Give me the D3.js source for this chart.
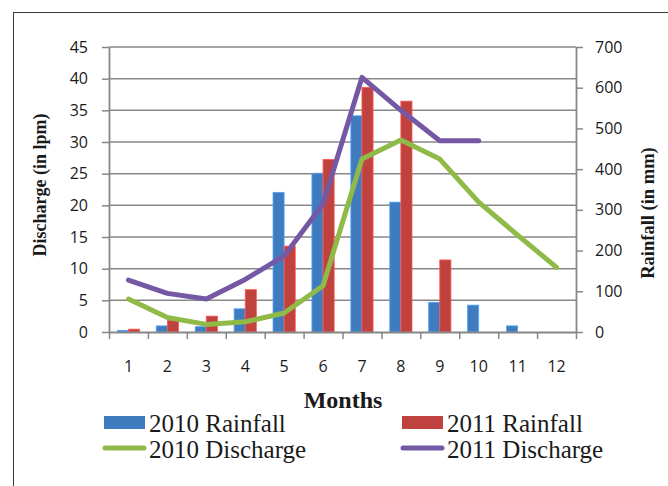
<!DOCTYPE html>
<html>
<head>
<meta charset="utf-8">
<script src="https://cdn.jsdelivr.net/npm/d3@7"></script>
<style>
  html, body { margin: 0; padding: 0; background: #ffffff; }
  svg { display: block; }
</style>
</head>
<body>
<svg id="chart" width="668" height="486"></svg>
<script>
// Monthly rainfall (mm) and spring discharge (lpm), 2010 vs 2011
const months = ["1","2","3","4","5","6","7","8","9","10","11","12"];
const rain2010 = [4, 15, 13, 57, 343, 390, 531, 319, 73, 66, 15, 0];
const rain2011 = [7, 29, 39, 104, 211, 424, 601, 567, 177, 0, 0, 0];
const discharge2010 = [5.2, 2.3, 1.2, 1.6, 3.0, 7.3, 27.3, 30.3, 27.3, 20.5, 15.3, 10.2];
const discharge2011 = [8.2, 6.1, 5.2, 8.3, 12.0, 20.2, 40.2, 35.0, 30.2, 30.2];
const dischargeTicks = [0, 5, 10, 15, 20, 25, 30, 35, 40, 45];
const rainTicks = [0, 100, 200, 300, 400, 500, 600, 700];
const seriesNames = ["2010 Rainfall", "2011 Rainfall", "2010 Discharge", "2011 Discharge"];

const colors = {
  r2010: "#3f7cbf",
  r2011: "#c0423f",
  d2010: "#8fba47",
  d2011: "#7558a4"
};
const axisColor = "#878787";

const svg = d3.select("#chart");

// outer frame
svg.append("rect")
  .attr("x", 13.5).attr("y", 12.5)
  .attr("width", 720).attr("height", 520)
  .attr("fill", "none").attr("stroke", "#3a3a3a").attr("stroke-width", 1);

const plot = { left: 109, right: 576, top: 47, bottom: 332 };

const x0 = d3.scaleBand().domain(months).range([plot.left, plot.right]).padding(0);
const x1 = d3.scaleBand().domain(["2010", "2011"]).range([0, x0.bandwidth()])
  .paddingInner(0).paddingOuter(0.75);
const xEdge = d3.scaleLinear().domain([0, months.length]).range([plot.left, plot.right]);
const yL = d3.scaleLinear().domain([0, 45]).range([plot.bottom, plot.top]);
const yR = d3.scaleLinear().domain([0, 700]).range([plot.bottom, plot.top]);

// horizontal gridlines
svg.append("g")
  .selectAll("line")
  .data(dischargeTicks.filter(d => d > 0))
  .join("line")
  .attr("x1", plot.left).attr("x2", plot.right)
  .attr("y1", d => yL(d)).attr("y2", d => yL(d))
  .attr("stroke", axisColor).attr("stroke-width", 1.5);

// rainfall bars
const barData = [];
months.forEach((m, i) => {
  barData.push({ m, year: "2010", v: rain2010[i], c: colors.r2010 });
  barData.push({ m, year: "2011", v: rain2011[i], c: colors.r2011 });
});
svg.append("g")
  .selectAll("rect")
  .data(barData.filter(d => d.v > 0))
  .join("rect")
  .attr("x", d => x0(d.m) + x1(d.year))
  .attr("width", x1.bandwidth())
  .attr("y", d => yR(d.v))
  .attr("height", d => yR(0) - yR(d.v))
  .attr("fill", d => d.c)
  .attr("stroke", d => d3.color(d.c).brighter(0.8))
  .attr("stroke-width", 0.8);

// discharge lines
const line = d3.line()
  .x((d, i) => x0(months[i]) + x0.bandwidth() / 2)
  .y(d => yL(d));
svg.append("path").datum(discharge2010)
  .attr("d", line).attr("fill", "none")
  .attr("stroke", colors.d2010).attr("stroke-width", 5)
  .attr("stroke-linejoin", "round").attr("stroke-linecap", "round");
svg.append("path").datum(discharge2011)
  .attr("d", line).attr("fill", "none")
  .attr("stroke", colors.d2011).attr("stroke-width", 5)
  .attr("stroke-linejoin", "round").attr("stroke-linecap", "round");

const tickFont = "'Open Sans', sans-serif";

function styleAxis(g) {
  g.select(".domain").attr("stroke", axisColor).attr("stroke-width", 1.8);
  g.selectAll(".tick line").attr("stroke", axisColor).attr("stroke-width", 1.5);
  g.selectAll(".tick text").attr("fill", "#1a1a1a")
    .style("font-family", tickFont).style("font-size", "16px");
}

// left axis (discharge)
svg.append("g")
  .attr("transform", `translate(${plot.left},0)`)
  .call(d3.axisLeft(yL).tickValues(dischargeTicks).tickSize(7).tickSizeOuter(0).tickPadding(14))
  .call(styleAxis);

// right axis (rainfall)
svg.append("g")
  .attr("transform", `translate(${plot.right},0)`)
  .call(d3.axisRight(yR).tickValues(rainTicks).tickSize(7).tickSizeOuter(0).tickPadding(12))
  .call(styleAxis);

// bottom axis: tick marks at month boundaries
svg.append("g")
  .attr("transform", `translate(0,${plot.bottom})`)
  .call(d3.axisBottom(xEdge).tickValues(d3.range(0, months.length + 1)).tickSize(7).tickSizeOuter(0).tickFormat(""))
  .call(styleAxis);

// bottom axis: month labels at band centres
svg.append("g")
  .attr("transform", `translate(0,${plot.bottom})`)
  .call(d3.axisBottom(x0).tickSize(0).tickPadding(29))
  .call(g => g.select(".domain").remove())
  .call(styleAxis);

// axis titles
const titleFont = "'Liberation Serif', 'Times New Roman', serif";
svg.append("text")
  .attr("transform", `translate(46,185) rotate(-90)`)
  .attr("text-anchor", "middle")
  .style("font-family", titleFont).style("font-weight", "bold").style("font-size", "18px")
  .attr("fill", "#1a1a1a")
  .text("Discharge (in lpm)");
svg.append("text")
  .attr("transform", `translate(654,213) rotate(-90)`)
  .attr("text-anchor", "middle")
  .style("font-family", titleFont).style("font-weight", "bold").style("font-size", "18.5px")
  .attr("fill", "#1a1a1a")
  .text("Rainfall (in mm)");
svg.append("text")
  .attr("x", 343).attr("y", 408)
  .attr("text-anchor", "middle")
  .style("font-family", titleFont).style("font-weight", "bold").style("font-size", "24px")
  .attr("fill", "#1a1a1a")
  .text("Months");

// legend
const legendItems = [
  { name: seriesNames[0], c: colors.r2010, type: "rect", x: 104, y: 416 },
  { name: seriesNames[1], c: colors.r2011, type: "rect", x: 402, y: 416 },
  { name: seriesNames[2], c: colors.d2010, type: "line", x: 104, y: 442 },
  { name: seriesNames[3], c: colors.d2011, type: "line", x: 402, y: 442 }
];
const lg = svg.append("g").selectAll("g").data(legendItems).join("g")
  .attr("transform", d => `translate(${d.x},${d.y})`);
lg.filter(d => d.type === "rect").append("rect")
  .attr("x", 0).attr("y", 0).attr("width", 41).attr("height", 13)
  .attr("fill", d => d.c);
lg.filter(d => d.type === "line").append("line")
  .attr("x1", 1).attr("x2", 40).attr("y1", 6).attr("y2", 6)
  .attr("stroke", d => d.c).attr("stroke-width", 5).attr("stroke-linecap", "round");
lg.append("text")
  .attr("x", 45).attr("y", 16)
  .style("font-family", titleFont).style("font-size", "25px")
  .attr("fill", "#1a1a1a")
  .text(d => d.name);
</script>
</body>
</html>
